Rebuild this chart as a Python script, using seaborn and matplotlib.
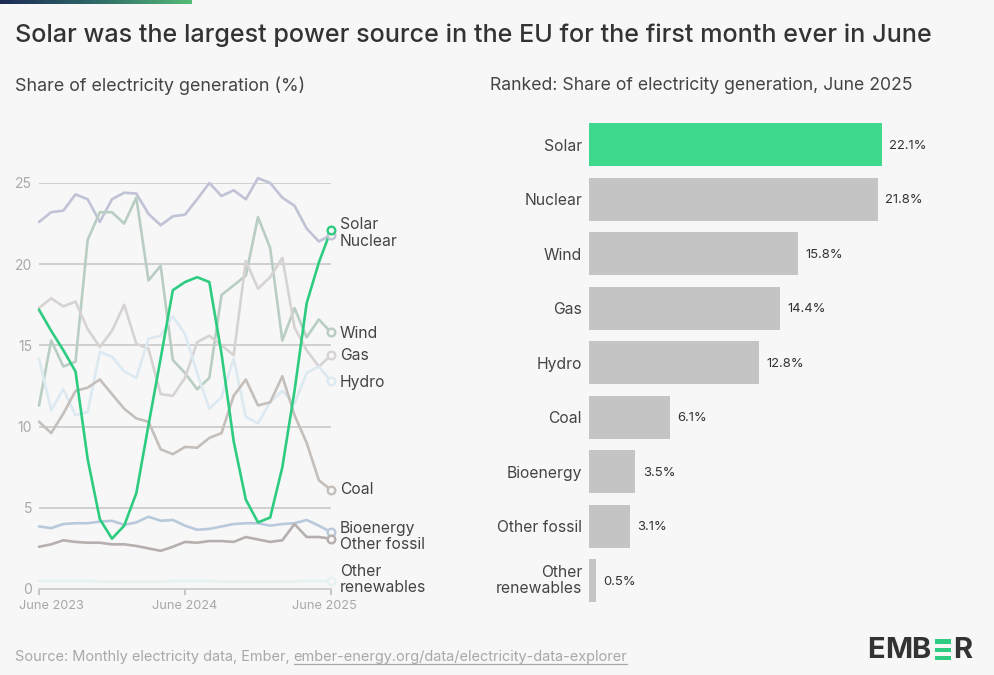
import numpy as np
import pandas as pd
import matplotlib.pyplot as plt
import seaborn as sns
from matplotlib.patches import Rectangle
from matplotlib.lines import Line2D
from matplotlib.transforms import ScaledTranslation

# Share of generation per month, June 2023 - June 2025
nuclear = [22.6, 23.2, 23.3, 24.3, 24.0, 22.6, 24.0, 24.4, 24.35, 23.1, 22.4, 22.95, 23.05, 24.0, 25.0, 24.2, 24.55, 24.0, 25.3, 25.0, 24.1, 23.6, 22.2, 21.4, 21.8]
wind = [11.3, 15.3, 13.7, 14.0, 21.5, 23.2, 23.2, 22.5, 24.1, 19.0, 19.9, 14.1, 13.3, 12.3, 13.0, 18.1, 18.7, 19.3, 22.9, 21.0, 15.3, 17.3, 15.5, 16.6, 15.8]
gas = [17.3, 17.9, 17.4, 17.7, 16.0, 14.9, 15.9, 17.5, 15.1, 14.8, 12.0, 11.9, 13.0, 15.2, 15.6, 15.0, 14.4, 20.2, 18.5, 19.2, 20.4, 16.1, 14.7, 13.7, 14.4]
hydro = [14.2, 11.0, 12.3, 10.7, 10.9, 14.6, 14.3, 13.4, 13.0, 15.4, 15.6, 16.8, 15.7, 13.3, 11.1, 11.8, 14.2, 10.6, 10.2, 11.5, 12.2, 11.4, 13.3, 13.7, 12.8]
coal = [10.3, 9.6, 10.8, 12.2, 12.4, 12.9, 12.0, 11.1, 10.5, 10.3, 8.6, 8.3, 8.75, 8.7, 9.3, 9.6, 11.9, 12.9, 11.3, 11.5, 13.1, 10.7, 9.0, 6.7, 6.1]
solar = [17.2, 15.9, 14.7, 13.4, 8.0, 4.3, 3.1, 3.9, 5.9, 10.1, 14.2, 18.4, 18.9, 19.2, 18.9, 14.5, 9.1, 5.5, 4.1, 4.4, 7.5, 12.2, 17.6, 20.1, 22.1]
bioenergy = [3.85, 3.75, 4.0, 4.05, 4.05, 4.15, 4.2, 3.95, 4.1, 4.45, 4.2, 4.25, 3.9, 3.65, 3.7, 3.85, 4.0, 4.05, 4.05, 3.9, 4.0, 4.05, 4.25, 3.9, 3.5]
other_fossil = [2.6, 2.75, 3.0, 2.9, 2.85, 2.85, 2.75, 2.75, 2.65, 2.5, 2.35, 2.6, 2.9, 2.85, 2.95, 2.95, 2.9, 3.2, 3.05, 2.9, 3.0, 4.0, 3.2, 3.2, 3.1]
other_renew = [0.5, 0.5, 0.5, 0.5, 0.5, 0.45, 0.45, 0.45, 0.45, 0.45, 0.45, 0.5, 0.5, 0.5, 0.5, 0.45, 0.45, 0.45, 0.45, 0.45, 0.45, 0.45, 0.5, 0.5, 0.5]

ranked_names = ['Solar', 'Nuclear', 'Wind', 'Gas', 'Hydro', 'Coal', 'Bioenergy', 'Other fossil', 'Other\nrenewables']
ranked_values = [22.1, 21.8, 15.8, 14.4, 12.8, 6.1, 3.5, 3.1, 0.5]
value_labels = ['22.1%', '21.8%', '15.8%', '14.4%', '12.8%', '6.1%', '3.5%', '3.1%', '0.5%']

series = {'Nuclear': nuclear, 'Wind': wind, 'Gas': gas, 'Hydro': hydro, 'Coal': coal,
          'Bioenergy': bioenergy, 'Other fossil': other_fossil,
          'Other renewables': other_renew, 'Solar': solar}
colors = {'Nuclear': '#c0c2d6', 'Wind': '#b9cec2', 'Gas': '#d6d3d2', 'Hydro': '#dde9f1',
          'Coal': '#c5bfbb', 'Bioenergy': '#b9c9dc', 'Other fossil': '#b6afad',
          'Other renewables': '#e6f2f2', 'Solar': '#2ecc80'}
label_pos = {'Solar': 224.5, 'Nuclear': 242, 'Wind': 333, 'Gas': 355.5, 'Hydro': 382, 'Coal': 490,
             'Bioenergy': 529, 'Other fossil': 544.5, 'Other renewables': 579.5}

W, H = 995, 675
BG = '#f7f7f7'
DARK = '#333333'
MID = '#444444'
GREY = '#a8a8a8'

sns.set_theme(style='white')
plt.rcParams['font.family'] = ['Inter', 'DejaVu Sans']

fig = plt.figure(figsize=(W / 100, H / 100), dpi=100, facecolor=BG)


def px_axes(x0, y0, x1, y1):
    # pixel box, y measured from the top of the image
    return fig.add_axes([x0 / W, 1 - y1 / H, (x1 - x0) / W, (y1 - y0) / H])


def ftext(x, y, s, **kw):
    return fig.text(x / W, 1 - y / H, s, **kw)


# gradient bar across the top
bar_ax = px_axes(0, 0, 192, 4)
bar_ax.imshow(np.linspace(0, 1, 256).reshape(1, -1), aspect='auto',
              cmap=sns.blend_palette(['#1d2a55', '#2f6a68', '#55bb78'], as_cmap=True))
bar_ax.axis('off')

ftext(15, 35.5, 'Solar was the largest power source in the EU for the first month ever in June',
      fontsize=18.1, color=DARK, va='center', fontweight='medium')
ftext(15, 85.5, 'Share of electricity generation (%)', fontsize=12.9, color=MID, va='center')
ftext(490, 85.5, 'Ranked: Share of electricity generation, June 2025', fontsize=12.7, color=MID, va='center')

# left: line chart
ax = px_axes(39, 183, 331, 589)
ax.set_facecolor('none')
long_df = pd.DataFrame(series).assign(month=range(25)).melt('month', var_name='source', value_name='share')
ax.hlines([5, 10, 15, 20, 25], 0, 24, color='#c9c9c9', lw=1.2, zorder=1)
sns.lineplot(data=long_df, x='month', y='share', hue='source', hue_order=list(series), palette=colors,
             lw=1.9, legend=False, ax=ax, zorder=3, clip_on=False)
for name, vals in series.items():
    ax.plot(24, vals[-1], 'o', ms=5.5, mfc=BG, mec=colors[name], mew=1.7, clip_on=False, zorder=4)
    ftext(340, label_pos[name], name.replace('Other renewables', 'Other\nrenewables'), fontsize=11.3,
          color=MID, va='center', linespacing=1.05)
ax.set_xlim(0, 24)
ax.set_ylim(0, 25)
ax.set_xticks([0, 12, 24], ['June 2023', 'June 2024', 'June 2025'])
ax.set_yticks([0, 5, 10, 15, 20, 25])
ax.tick_params(axis='x', length=4, width=1.2, color='#bdbdbd', labelcolor=GREY, labelsize=9.2, pad=4, bottom=True)
ax.tick_params(axis='y', length=0, labelcolor=GREY, labelsize=10, pad=5)
ax.set_xlabel('')
ax.set_ylabel('')
sns.despine(ax=ax, left=True)
ax.spines['bottom'].set_color('#c9c9c9')
ax.spines['bottom'].set_linewidth(1.2)
# first and last date labels are pulled in towards the plot
for lab, shift in zip(ax.get_xticklabels(), [12, 0, -7]):
    lab.set_transform(lab.get_transform() + ScaledTranslation(shift / 100, 0, fig.dpi_scale_trans))

# right: ranked bars
ax2 = px_axes(589, 117.5, 882, 608)
ax2.set_facecolor('none')
bar_colors = ['#3ed98c'] + ['#c4c4c4'] * 8
sns.barplot(x=ranked_values, y=ranked_names, hue=ranked_names, palette=bar_colors, legend=False,
            width=0.79, saturation=1, edgecolor='none', linewidth=0, ax=ax2)
ax2.set_xlim(0, 22.1)
ax2.set_ylabel('')
ax2.tick_params(axis='y', length=0, labelcolor=MID, labelsize=11.3, pad=5)
ax2.tick_params(axis='x', length=0, labelbottom=False)
for lab in ax2.get_yticklabels():
    lab.set_linespacing(1.05)
last_lab = ax2.get_yticklabels()[-1]
last_lab.set_transform(last_lab.get_transform() + ScaledTranslation(0, 2 / 100, fig.dpi_scale_trans))
for i, val in enumerate(ranked_values):
    ax2.text(val + 0.55, i + 0.02, value_labels[i], va='center', ha='left', fontsize=9.4, color=DARK, clip_on=False)
sns.despine(ax=ax2, left=True, bottom=True)

# source line with underlined link
src = ftext(15, 656.5, 'Source: Monthly electricity data, Ember, ', fontsize=10.45, color=GREY, va='center')
fig.canvas.draw()
x_link = src.get_window_extent().x1
link = ftext(x_link, 656.5, 'ember-energy.org/data/electricity-data-explorer', fontsize=10.45, color=GREY, va='center')
link_box = link.get_window_extent()
fig.add_artist(Line2D([link_box.x0 / W, link_box.x1 / W], [1 - 663.5 / H, 1 - 663.5 / H], color=GREY, lw=0.9))

# logo
for x, letter in [(867, 'E'), (885.5, 'M'), (911, 'B'), (953, 'R')]:
    ftext(x, 650.5, letter, fontsize=21, fontweight='bold', color=DARK, va='center', ha='left')
for y0, y1 in [(639, 644), (648, 652), (656, 660)]:
    fig.add_artist(Rectangle((935 / W, 1 - y1 / H), 16 / W, (y1 - y0) / H,
                             transform=fig.transFigure, color='#2ecc80', lw=0))

fig.savefig('out.png', dpi=100, facecolor=BG)
